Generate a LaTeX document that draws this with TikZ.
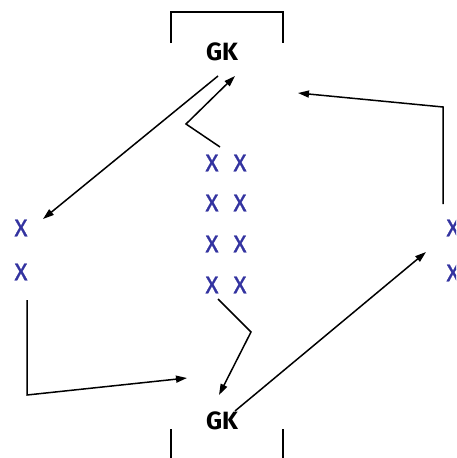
\documentclass[tikz,border=0pt]{standalone}
\usepackage{fontspec}
\setmainfont{Fira Sans}
\newfontfamily\xfont[FakeBold=1.2]{Fira Sans}
\usetikzlibrary{arrows.meta}
\definecolor{xblue}{RGB}{51,51,160}
\begin{document}
\begin{tikzpicture}[x=1pt,y=-1pt,
  player/.style={inner sep=0pt,text=xblue,font=\xfont\fontsize{24}{24}\selectfont},
  keeper/.style={inner sep=0pt,font=\fontsize{25}{25}\selectfont\bfseries},
  goal/.style={line width=1.5pt},
  pass/.style={line width=1.5pt,-{Triangle[length=11pt,width=7pt]}},
  run/.style={line width=1.5pt}]
\useasboundingbox (0,0) rectangle (456,458);
\clip (0,0) rectangle (456,458);
% goals
\coordinate (gt1) at (171,43); \coordinate (gt2) at (171,12);
\coordinate (gt3) at (283,12); \coordinate (gt4) at (283,43);
\draw[goal] (gt1) -- (gt2) -- (gt3) -- (gt4);
\coordinate (gb1) at (171,429); \coordinate (gb2) at (171,458);
\coordinate (gb3) at (283,429); \coordinate (gb4) at (283,458);
\draw[goal] (gb1) -- (gb2);
\draw[goal] (gb3) -- (gb4);
% keepers
\node[keeper] (gktop) at (222,52) {GK};
\node[keeper] (gkbot) at (222,421) {GK};
% left players
\node[player] (l1) at (21,228) {X};
\node[player] (l2) at (21,272) {X};
% right players (cut by the picture's edge, as in the reference)
\node[player] (r1) at (453,228) {X};
\node[player] (r2) at (453,273) {X};
% middle players
\foreach \r/\y in {1/163,2/203,3/244,4/285}{
  \node[player] (ma\r) at (212,\y) {X};
  \node[player] (mb\r) at (240,\y) {X};
}
% connectors
\coordinate (p1s) at (218,76); \coordinate (p1e) at (43,219);
\draw[pass] (p1s) -- (p1e);
\coordinate (p2s) at (220,147); \coordinate (p2b) at (186,124); \coordinate (p2e) at (235,76);
\draw[pass] (p2s) -- (p2b) -- (p2e);
\coordinate (p3s) at (443,204); \coordinate (p3b) at (443,107); \coordinate (p3e) at (298,93);
\draw[pass] (p3s) -- (p3b) -- (p3e);
\coordinate (p4s) at (27,300); \coordinate (p4b) at (27,395); \coordinate (p4e) at (187,378);
\draw[pass] (p4s) -- (p4b) -- (p4e);
\coordinate (p5s) at (218,299); \coordinate (p5b) at (251,332); \coordinate (p5e) at (219,395);
\draw[pass] (p5s) -- (p5b) -- (p5e);
\coordinate (p6s) at (235,411); \coordinate (p6e) at (426,252);
\draw[pass] (p6s) -- (p6e);
\end{tikzpicture}
\end{document}
